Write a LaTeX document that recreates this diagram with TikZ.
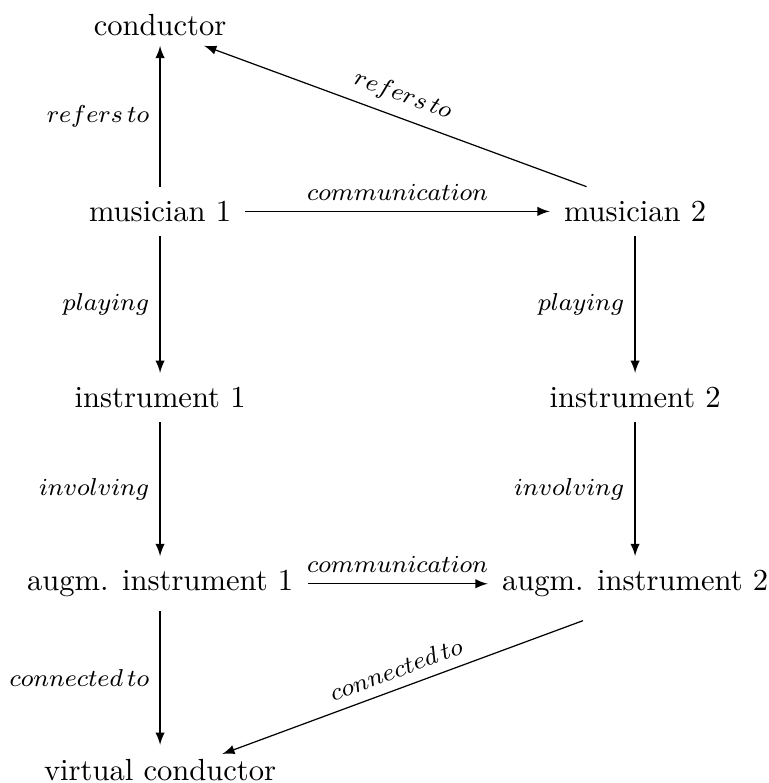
\documentclass[tikz,border=0pt]{standalone}
\usepackage{amsmath}
\usepackage{tikz}
\usetikzlibrary{arrows,positioning}
\tikzstyle{arrow} = [->,>=latex]
\tikzstyle{item} = [inner sep=4.5pt]
\tikzstyle{rel} = [font=\footnotesize]

\begin{document}
\begin{tikzpicture}[node distance=2.14cm and 5.46cm, on grid]
\useasboundingbox (-1.84,0.29) rectangle (6.99,-8.71);
% Players
\node[item, inner ysep=3pt] (cond) {conductor};
\node[item, below=of cond] (mus1) {musician 1};
\node[item, right=of mus1] (mus2) {musician 2};
% Instruments
\node[item, below=of mus1] (inst1) {instrument 1};
\node[item, below=of mus2] (inst2) {instrument 2};
\node[item, below=of inst1] (aug1) {augm. instrument 1};
\node[item, below=of inst2] (aug2) {augm. instrument 2};
% Virtual conductor
\node[item, below=of aug1] (vcond) {virtual conductor};

\draw[arrow] (mus1) -- node[rel, left] {$refers\,to$} (cond);
\draw[arrow] (mus2.153) -- node[rel, sloped, above] {$refers\,to$} (cond.-25);
\draw[arrow] (mus1) -- node[rel, above] {$communication$} (mus2);
\draw[arrow] (mus1) -- node[rel, left] {$playing$} (inst1);
\draw[arrow] (mus2) -- node[rel, left] {$playing$} (inst2);
\draw[arrow] (inst1) -- node[rel, left] {$involving$} (aug1);
\draw[arrow] (inst2) -- node[rel, left] {$involving$} (aug2);
\draw[arrow] (aug1) -- node[rel, above] {$communication$} (aug2);
\draw[arrow] (aug1) -- node[rel, left] {$connected\,to$} (vcond);
\draw[arrow] ([yshift=-3pt]aug2.208) -- node[rel, sloped, above] {$connected\,to$} ([yshift=-3pt]vcond.22);
\end{tikzpicture}
\end{document}
